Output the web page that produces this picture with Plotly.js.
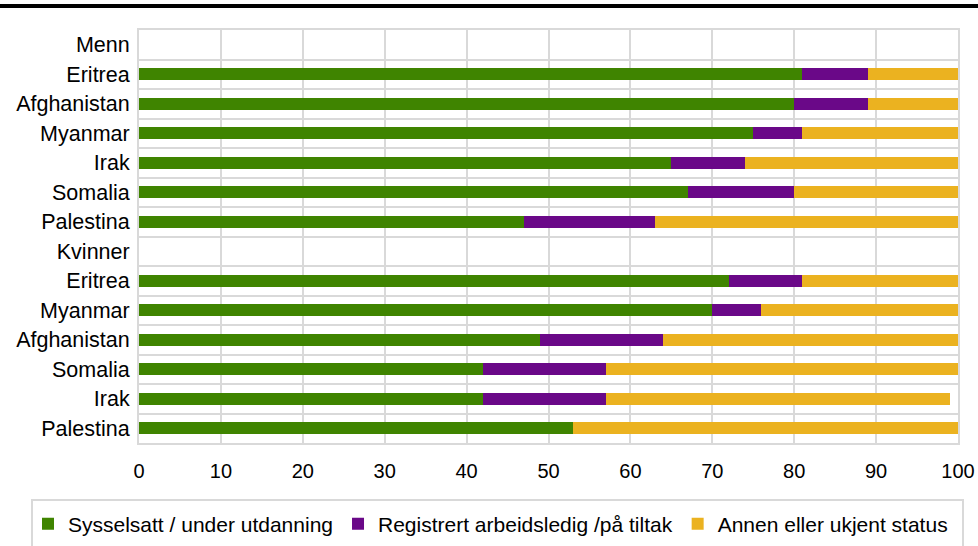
<!DOCTYPE html>
<html>
<head>
<meta charset="utf-8">
<script src="https://cdn.plot.ly/plotly-3.0.1.min.js"></script>
<style>html,body{margin:0;padding:0;background:#fff;}#chart{width:978px;height:546px;}</style>
</head>
<body>
<div id="chart"></div>
<script>
// Row labels, top to bottom (group headers have no bars)
const categories = ["Menn","Eritrea","Afghanistan","Myanmar","Irak","Somalia","Palestina",
                    "Kvinner","Eritrea","Myanmar","Afghanistan","Somalia","Irak","Palestina"];
const sysselsatt  = [null,81,80,75,65,67,47, null,72,70,49,42,42,53];
const registrert  = [null, 8, 9, 6, 9,13,16, null, 9, 6,15,15,15, 0];
const annen       = [null,11,11,19,26,20,37, null,19,24,36,43,42,47];
const seriesNames = ["Sysselsatt / under utdanning","Registrert arbeidsledig /på tiltak","Annen eller ukjent status"];
const xTicks = [0,10,20,30,40,50,60,70,80,90,100];

const colors = ["#3f8400","#6a0888","#ebb220"];
const rowIdx = categories.map((_, i) => i);
const FONT = "Liberation Sans, Arial, sans-serif";

const traces = [sysselsatt, registrert, annen].map((vals, k) => ({
  type: "bar",
  orientation: "h",
  name: seriesNames[k],
  x: vals,
  y: rowIdx,
  marker: {color: colors[k], line: {width: 0}},
  hoverinfo: "x+name"
}));

const PW = 819, PH = 413, ML = 139, MT = 30;
const layout = {
  width: 978, height: 546,
  margin: {l: ML, r: 20, t: MT, b: 103, pad: 0, autoexpand: false},
  barmode: "stack",
  bargap: 0.6,
  paper_bgcolor: "#fff",
  plot_bgcolor: "#fff",
  font: {family: FONT, size: 20, color: "#000"},
  xaxis: {
    range: [0, 100],
    tickvals: xTicks,
    ticktext: xTicks.map(String),
    showgrid: true, gridcolor: "#d9d9d9", gridwidth: 2,
    zeroline: false,
    showline: true, mirror: true, linecolor: "#d9d9d9", linewidth: 2,
    ticks: "outside", ticklen: 9, tickcolor: "rgba(0,0,0,0)",
    tickfont: {family: FONT, size: 20, color: "#000"},
    fixedrange: true
  },
  yaxis: {
    range: [13.5, -0.5],
    tickvals: rowIdx,
    ticktext: categories,
    showgrid: false,
    zeroline: false,
    showline: true, mirror: true, linecolor: "#d9d9d9", linewidth: 2,
    ticks: "outside", ticklen: 3, tickcolor: "rgba(0,0,0,0)",
    tickfont: {family: FONT, size: 21.5, color: "#000"},
    minor: {tick0: 0.5, dtick: 1, showgrid: true, gridcolor: "#d9d9d9", gridwidth: 2, ticks: ""},
    fixedrange: true
  },
  showlegend: true,
  legend: {
    orientation: "h",
    xref: "paper", yref: "paper",
    x: (28 - ML) / PW, xanchor: "left",
    y: -(524 - (MT + PH)) / PH, yanchor: "middle",
    font: {family: FONT, size: 21, color: "#000"},
    bgcolor: "rgba(0,0,0,0)",
    borderwidth: 0,
    itemwidth: 30,
    traceorder: "normal"
  },
  shapes: [
    {type: "line", xref: "paper", yref: "paper", x0: -ML/PW, x1: (978-ML)/PW,
     y0: 1 + (MT-6)/PH, y1: 1 + (MT-6)/PH, line: {color: "#000", width: 4}},
    {type: "rect", xref: "paper", yref: "paper",
     x0: (32-ML)/PW, x1: (963-ML)/PW,
     y0: -(500-(MT+PH))/PH, y1: -(560-(MT+PH))/PH,
     line: {color: "#d9d9d9", width: 2}, fillcolor: "rgba(0,0,0,0)", layer: "below"}
  ]
};

Plotly.newPlot("chart", traces, layout, {staticPlot: true, displayModeBar: false});
</script>
</body>
</html>
